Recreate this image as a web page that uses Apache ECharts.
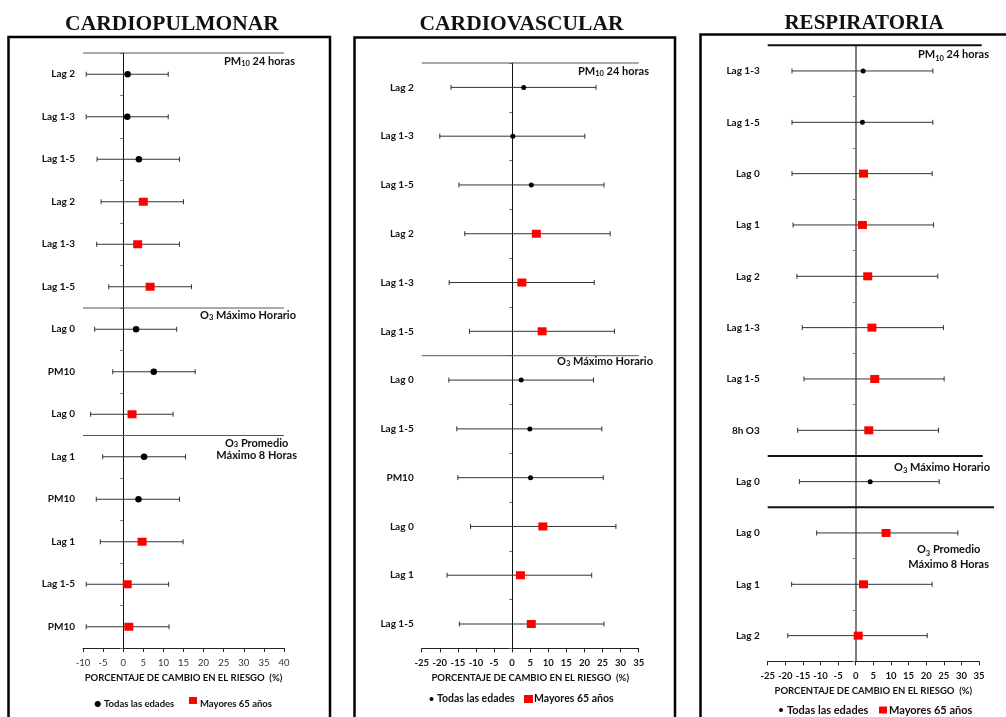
<!DOCTYPE html>
<html>
<head>
<meta charset="utf-8">
<script src="https://cdn.jsdelivr.net/npm/echarts@6/dist/echarts.min.js"></script>
<style>
  html, body { margin: 0; padding: 0; background: #fff; }
  #chart { width: 1006px; height: 717px; }
</style>
</head>
<body>
<div id="chart"></div>
<script>
// ---------- shared text ----------
const legendNames = ['Todas las edades', 'Mayores 65 años'];
const axisTitle = 'PORCENTAJE DE CAMBIO EN EL RIESGO  (%)';

// ---------- CARDIOPULMONAR ----------
const cpTitle = 'CARDIOPULMONAR';
const cpLabels = ['Lag 2', 'Lag 1-3', 'Lag 1-5', 'Lag 2', 'Lag 1-3', 'Lag 1-5', 'Lag 0', 'PM10', 'Lag 0', 'Lag 1', 'PM10', 'Lag 1', 'Lag 1-5', 'PM10'];
const cpEstimate = [1.1, 1.0, 3.9, 5.0, 3.6, 6.7, 3.2, 7.6, 2.2, 5.2, 3.8, 4.7, 1.0, 1.4];
const cpLower = [-9.2, -9.2, -6.5, -5.5, -6.6, -3.6, -7.1, -2.6, -8.1, -5.1, -6.7, -5.7, -9.2, -9.2];
const cpUpper = [11.2, 11.2, 14.0, 15.0, 14.0, 17.0, 13.3, 17.9, 12.4, 15.5, 14.0, 14.9, 11.3, 11.4];
const cpOlder = [0, 0, 0, 1, 1, 1, 0, 0, 1, 0, 0, 1, 1, 1];   // 1 = Mayores 65 años
const cpSectionStart = [0, 6, 9];
const cpSectionName = ['PM_10 24 horas', 'O_3 Máximo Horario', 'O_3 Promedio\nMáximo 8 Horas'];
const cpXRange = [-10, 40];

// ---------- CARDIOVASCULAR ----------
const cvTitle = 'CARDIOVASCULAR';
const cvLabels = ['Lag 2', 'Lag 1-3', 'Lag 1-5', 'Lag 2', 'Lag 1-3', 'Lag 1-5', 'Lag 0', 'Lag 1-5', 'PM10', 'Lag 0', 'Lag 1', 'Lag 1-5'];
const cvEstimate = [3.2, 0.2, 5.3, 6.7, 2.7, 8.3, 2.5, 4.9, 5.1, 8.5, 2.3, 5.3];
const cvLower = [-16.9, -20.0, -14.7, -13.1, -17.4, -11.8, -17.5, -15.3, -15.0, -11.5, -18.0, -14.6];
const cvUpper = [23.2, 20.1, 25.4, 27.1, 22.7, 28.3, 22.5, 24.8, 25.2, 28.7, 22.0, 25.4];
const cvOlder = [0, 0, 0, 1, 1, 1, 0, 0, 0, 1, 1, 1];
const cvSectionStart = [0, 6];
const cvSectionName = ['PM_10 24 horas', 'O_3 Máximo Horario'];
const cvXRange = [-25, 35];

// ---------- RESPIRATORIA ----------
const resTitle = 'RESPIRATORIA';
const resLabels = ['Lag 1-3', 'Lag 1-5', 'Lag 0', 'Lag 1', 'Lag 2', 'Lag 1-3', 'Lag 1-5', '8h O3', 'Lag 0', 'Lag 0', 'Lag 1', 'Lag 2'];
const resEstimate = [2.1, 1.9, 2.2, 1.9, 3.4, 4.6, 5.4, 3.7, 4.1, 8.6, 2.2, 0.7];
const resLower = [-18.1, -18.1, -18.1, -17.8, -16.7, -15.2, -14.7, -16.5, -16.0, -11.1, -18.2, -19.3];
const resUpper = [21.9, 21.9, 21.7, 22.1, 23.3, 24.9, 25.1, 23.5, 23.7, 29.0, 21.7, 20.3];
const resOlder = [0, 0, 1, 1, 1, 1, 1, 1, 0, 1, 1, 1];
const resSectionStart = [0, 8, 9];
const resSectionName = ['PM_10 24 horas', 'O_3 Máximo Horario', 'O_3 Promedio\nMáximo 8 Horas'];
const resXRange = [-25, 35];

// ---------- layout / styling ----------
const SANS = 'Lato, "Open Sans", sans-serif';
const SERIF = '"Liberation Serif", "Times New Roman", serif';
const INK = '#111';

const panels = [
  {
    title: cpTitle, labels: cpLabels, est: cpEstimate, low: cpLower, high: cpUpper, older: cpOlder,
    secStart: cpSectionStart, secName: cpSectionName, xRange: cpXRange,
    layout: {
      grid: [83, 53, 201, 595], titleX: 172, titleY: 24.5, titleSize: 21.5,
      box: [8.5, 37, 321.5, 720, 2.5],
      tickWeight: 'normal', tickColor: '#333', labelMargin: 10, nameGap: 23,
      dotSize: 6.5, square: [9, 8],
      zeroColor: '#111', zeroWidth: 1, sepColor: '#555', sepWidth: 1, sepExtra: [0, 0, 0],
      secDx: [13, 13, 13], secDy: [2.5, 1.5, 1.5], secLine: 12, secFont: 11,
      legend: { y: 704, font: 9.5, dotX: 97.7, dotR: 3, t1: 104, sq: [189, 700.5, 8, 7], t2: 200 }
    }
  },
  {
    title: cvTitle, labels: cvLabels, est: cvEstimate, low: cvLower, high: cvUpper, older: cvOlder,
    secStart: cvSectionStart, secName: cvSectionName, xRange: cvXRange,
    layout: {
      grid: [421.7, 63, 217, 585.4], titleX: 521.5, titleY: 24.5, titleSize: 21.5,
      box: [354.5, 37.5, 320.5, 720, 2.5],
      tickWeight: 'bold', tickColor: INK, labelMargin: 10, nameGap: 20,
      dotSize: 5, square: [9, 8],
      zeroColor: '#111', zeroWidth: 1, sepColor: '#555', sepWidth: 1, sepExtra: [0, 0],
      secDx: [12.3, 15.3], secDy: [2, -1], secLine: 13, secFont: 11,
      legend: { y: 699, font: 10.5, dotX: 431.5, dotR: 2, t1: 437, sq: [524, 699, 9, 8], t2: 534 }
    }
  },
  {
    title: resTitle, labels: resLabels, est: resEstimate, low: resLower, high: resUpper, older: resOlder,
    secStart: resSectionStart, secName: resSectionName, xRange: resXRange,
    layout: {
      grid: [767.7, 45.3, 211.3, 616], titleX: 864, titleY: 23.5, titleSize: 21,
      box: [700.5, 34.5, 340, 720, 2.5],
      tickWeight: 'bold', tickColor: INK, labelMargin: 10, nameGap: 25,
      dotSize: 5, square: [9, 8],
      zeroColor: '#555', zeroWidth: 1.5, sepColor: '#111', sepWidth: 2, sepExtra: [2.7, 3.7, 15],
      secDx: [12, 12, 10], secDy: [2, 4, 35], secLine: 15, secFont: 11,
      legend: { y: 710, font: 11, dotX: 781, dotR: 2, t1: 787, sq: [879, 710, 8, 7], t2: 889 }
    }
  }
];

// text measuring for multi-line group captions
const measureCtx = document.createElement('canvas').getContext('2d');
function textWidth(str, size) {
  measureCtx.font = 'bold ' + size + 'px ' + SANS;
  return measureCtx.measureText(str).width;
}
function toRich(s) { return s.replace(/_(\d+)/g, '{sub|$1}'); }
function toPlain(s) { return s.replace(/_/g, ''); }

// horizontal confidence interval with end caps
function renderErrorBar(params, api) {
  const row = api.value(0);
  const a = api.coord([api.value(1), row]);
  const b = api.coord([api.value(2), row]);
  const cap = 2.5;
  const st = { stroke: '#333', lineWidth: 1 };
  return {
    type: 'group',
    children: [
      { type: 'line', shape: { x1: a[0], y1: a[1], x2: b[0], y2: b[1] }, style: st },
      { type: 'line', shape: { x1: a[0], y1: a[1] - cap, x2: a[0], y2: a[1] + cap }, style: st },
      { type: 'line', shape: { x1: b[0], y1: b[1] - cap, x2: b[0], y2: b[1] + cap }, style: st }
    ]
  };
}

// group separator line + caption (pollutant metric)
function makeSectionRenderer(p) {
  const L = p.layout;
  return function (params, api) {
    const i = params.dataIndex;
    const row = api.value(1);
    const band = api.size([0, 1])[1];
    const left = api.coord([p.xRange[0], row]);
    const right = api.coord([p.xRange[1], row]);
    const y = left[1] - band / 2;
    const lines = p.secName[i].split('\n');
    const maxW = Math.max.apply(null, lines.map(function (s) { return textWidth(toPlain(s), L.secFont); }));
    const anchor = right[0] + L.secDx[i];
    return {
      type: 'group',
      children: [
        {
          type: 'line',
          shape: { x1: left[0], y1: y, x2: right[0] + L.sepExtra[i], y2: y },
          style: { stroke: L.sepColor, lineWidth: L.sepWidth }
        },
        {
          type: 'text',
          style: {
            text: toRich(p.secName[i]),
            x: anchor - maxW / 2,
            y: y + L.secDy[i],
            align: 'center', verticalAlign: 'top',
            textAlign: 'center', textVerticalAlign: 'top',
            fontFamily: SANS, fontWeight: 'bold', fontSize: L.secFont,
            lineHeight: L.secLine,
            fill: INK,
            rich: {
              sub: { fontFamily: SANS, fontWeight: 'bold', fontSize: 7.5, lineHeight: 8, verticalAlign: 'bottom', fill: INK }
            }
          }
        }
      ]
    };
  };
}

const grids = [], xAxes = [], yAxes = [], series = [], graphics = [];

panels.forEach(function (p, i) {
  const L = p.layout;
  grids.push({
    left: L.grid[0], top: L.grid[1], width: L.grid[2], height: L.grid[3],
    containLabel: false, outerBoundsMode: 'none'
  });

  xAxes.push({
    gridIndex: i, type: 'value', min: p.xRange[0], max: p.xRange[1], interval: 5,
    axisLine: { show: true, onZero: false, lineStyle: { color: '#222', width: 1 } },
    axisTick: { show: true, length: 4, lineStyle: { color: '#222', width: 1 } },
    splitLine: { show: false },
    axisLabel: { margin: L.labelMargin, fontFamily: SANS, fontSize: 9.5, fontWeight: L.tickWeight, color: L.tickColor },
    name: axisTitle, nameLocation: 'middle', nameGap: L.nameGap,
    nameTextStyle: { fontFamily: SANS, fontSize: 9.5, fontWeight: 'bold', color: INK }
  });

  // row labels on the left edge
  yAxes.push({
    gridIndex: i, type: 'category', data: p.labels, inverse: true, position: 'left',
    axisLine: { show: false, onZero: false }, axisTick: { show: false }, splitLine: { show: false },
    axisLabel: { interval: 0, margin: 8, fontFamily: SANS, fontSize: 10, fontWeight: 'bold', color: INK }
  });
  // reference line at 0 % with row boundary ticks
  yAxes.push({
    gridIndex: i, type: 'category', data: p.labels, inverse: true, position: 'left',
    axisLine: { show: true, onZero: true, lineStyle: { color: L.zeroColor, width: L.zeroWidth } },
    axisTick: { show: true, length: 3, lineStyle: { color: '#777' } },
    axisLabel: { show: false }, splitLine: { show: false }
  });

  const yIdx = 2 * i;

  series.push({
    type: 'custom', name: 'IC 95% ' + p.title, xAxisIndex: i, yAxisIndex: yIdx,
    renderItem: renderErrorBar, clip: false, silent: true, z: 2,
    encode: { x: [1, 2], y: 0 },
    data: p.low.map(function (lo, k) { return [k, lo, p.high[k]]; })
  });

  series.push({
    type: 'custom', name: 'Grupos ' + p.title, xAxisIndex: i, yAxisIndex: yIdx,
    renderItem: makeSectionRenderer(p), clip: false, silent: true, z: 1,
    encode: { x: 0, y: 1 },
    data: p.secStart.map(function (k) { return [p.xRange[0], k]; })
  });

  series.push({
    type: 'scatter', name: legendNames[0], xAxisIndex: i, yAxisIndex: yIdx,
    symbol: 'circle', symbolSize: L.dotSize, z: 4, silent: true,
    itemStyle: { color: '#000', opacity: 1 },
    data: p.est.map(function (v, k) { return [v, k]; }).filter(function (d, k) { return !p.older[k]; })
  });

  series.push({
    type: 'scatter', name: legendNames[1], xAxisIndex: i, yAxisIndex: yIdx,
    symbol: 'rect', symbolSize: L.square, z: 4, silent: true,
    itemStyle: { color: '#f00', opacity: 1 },
    data: p.est.map(function (v, k) { return [v, k]; }).filter(function (d, k) { return p.older[k]; })
  });

  // panel frame
  graphics.push({
    type: 'rect', silent: true,
    shape: { x: L.box[0], y: L.box[1], width: L.box[2], height: L.box[3] },
    style: { fill: 'none', stroke: '#000', lineWidth: L.box[4] }
  });
  // panel title
  graphics.push({
    type: 'text', silent: true, x: L.titleX, y: L.titleY,
    style: {
      text: p.title, fontFamily: SERIF, fontWeight: 'bold', fontSize: L.titleSize, fill: INK,
      align: 'center', verticalAlign: 'middle', textAlign: 'center', textVerticalAlign: 'middle'
    }
  });
  // legend
  const g = L.legend;
  graphics.push({ type: 'circle', silent: true, shape: { cx: g.dotX, cy: g.y, r: g.dotR }, style: { fill: '#000' } });
  graphics.push({
    type: 'text', silent: true, x: g.t1, y: g.y,
    style: { text: legendNames[0], fontFamily: SANS, fontWeight: 'bold', fontSize: g.font, fill: INK,
      align: 'left', verticalAlign: 'middle', textAlign: 'left', textVerticalAlign: 'middle' }
  });
  graphics.push({ type: 'rect', silent: true, shape: { x: g.sq[0], y: g.sq[1] - g.sq[3] / 2, width: g.sq[2], height: g.sq[3] }, style: { fill: '#f00' } });
  graphics.push({
    type: 'text', silent: true, x: g.t2, y: g.y,
    style: { text: legendNames[1], fontFamily: SANS, fontWeight: 'bold', fontSize: g.font, fill: INK,
      align: 'left', verticalAlign: 'middle', textAlign: 'left', textVerticalAlign: 'middle' }
  });
});

const chart = echarts.init(document.getElementById('chart'), null, { renderer: 'canvas' });
chart.setOption({
  animation: false,
  backgroundColor: '#fff',
  grid: grids,
  xAxis: xAxes,
  yAxis: yAxes,
  series: series,
  graphic: graphics
});
</script>
</body>
</html>
